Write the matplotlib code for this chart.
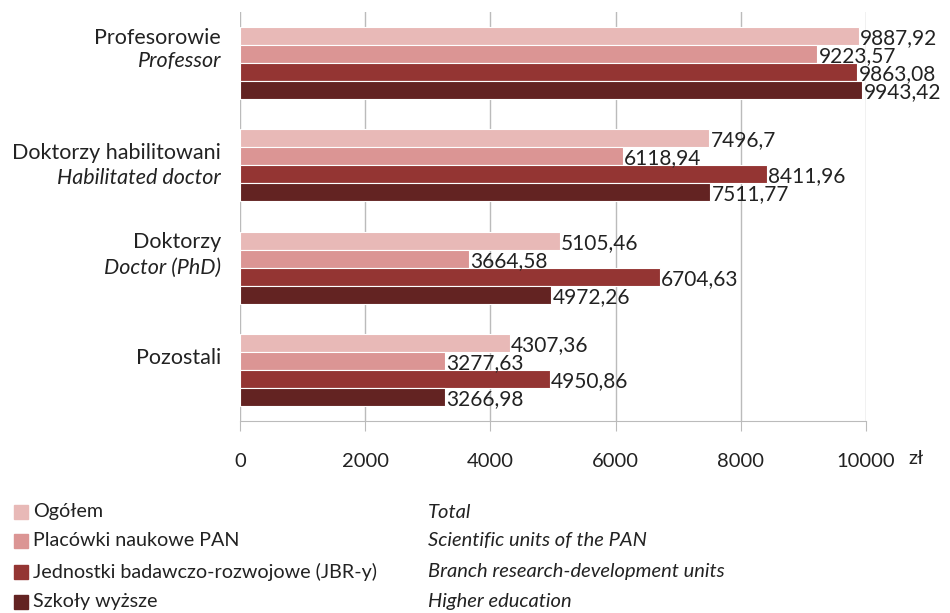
import numpy as np
import matplotlib
matplotlib.use('Agg')
import matplotlib.pyplot as plt
from matplotlib.patches import Rectangle

plt.rcParams.update({
    'font.family': ['Lato', 'DejaVu Sans'],
    'font.size': 14,
})

# data
groups_pl = ['Profesorowie', 'Doktorzy habilitowani', 'Doktorzy', 'Pozostali']
groups_en = ['Professor', 'Habilitated doctor', 'Doctor (PhD)', '']
series_pl = ['Ogółem', 'Placówki naukowe PAN',
             'Jednostki badawczo-rozwojowe (JBR-y)', 'Szkoły wyższe']
series_en = ['Total', 'Scientific units of the PAN',
             'Branch research-development units', 'Higher education']
ogolem = [9887.92, 7496.70, 5105.46, 4307.36]
pan = [9223.57, 6118.94, 3664.58, 3277.63]
jbr = [9863.08, 8411.96, 6704.63, 4950.86]
szkoly = [9943.42, 7511.77, 4972.26, 3266.98]
value_labels = [
    ['9887,92', '7496,7', '5105,46', '4307,36'],
    ['9223,57', '6118,94', '3664,58', '3277,63'],
    ['9863,08', '8411,96', '6704,63', '4950,86'],
    ['9943,42', '7511,77', '4972,26', '3266,98'],
]
xticks = [0, 2000, 4000, 6000, 8000, 10000]

colors = ['#E8B9B7', '#DB9594', '#943533', '#632322']
text_color = '#222222'
grid_color = '#BBBBBB'

fig = plt.figure(figsize=(9.5, 6.13), dpi=100)
ax = fig.add_axes([240/950, 1 - 421/613, 626/950, 409/613])

y = np.arange(len(groups_pl))
h = 0.1765
for k, vals in enumerate([ogolem, pan, jbr, szkoly]):
    pos = y + (k - 1.5) * h
    ax.barh(pos, vals, height=h, color=colors[k], edgecolor='white',
            linewidth=0.8, zorder=2)
    for yy, v, lab in zip(pos, vals, value_labels[k]):
        ax.text(v + 20, yy + 0.02, lab, va='center', ha='left',
                fontsize=15, color=text_color, zorder=3)

ax.set_xlim(0, 10000)
ax.set_ylim(3.5, -0.5)
ax.set_xticks(xticks)
ax.set_xticklabels([str(t) for t in xticks], fontsize=14.5, color=text_color)
ax.tick_params(axis='x', length=7, color=grid_color, pad=16)
ax.set_yticks([])
ax.grid(axis='x', color=grid_color, linewidth=1, zorder=0)
for s in ['top', 'right', 'left']:
    ax.spines[s].set_visible(False)
ax.spines['bottom'].set_color(grid_color)

fig.text(908/950, 1 - 459/613, 'zł', fontsize=14.5, color=text_color,
         va='center', ha='left')

# category labels (offsets from group centre, in group units)
pl_off = [-0.25, -0.12, -0.25, -0.12]
en_off = [-0.02, 0.12, 0.0, 0.0]
ytrans = ax.get_yaxis_transform()
for i, (pl, en) in enumerate(zip(groups_pl, groups_en)):
    ax.text(-0.03, i + pl_off[i], pl, transform=ytrans,
            ha='right', va='center', fontsize=15.5, color=text_color)
    if en:
        ax.text(-0.03, i + en_off[i], en, transform=ytrans,
                ha='right', va='center', fontsize=15.5, color=text_color,
                style='italic')

# legend
rows = [512, 541, 572, 602]
for k, ry in enumerate(rows):
    fig.patches.append(Rectangle((14/950, 1 - (ry + 7)/613), 14/950, 14/613,
                                 transform=fig.transFigure, color=colors[k]))
    fig.text(33/950, 1 - ry/613, series_pl[k], fontsize=14.2, color=text_color,
             va='center', ha='left')
    fig.text(428/950, 1 - ry/613, series_en[k], fontsize=14.5, color=text_color,
             va='center', ha='left', style='italic')

fig.savefig('out.png', dpi=100)
